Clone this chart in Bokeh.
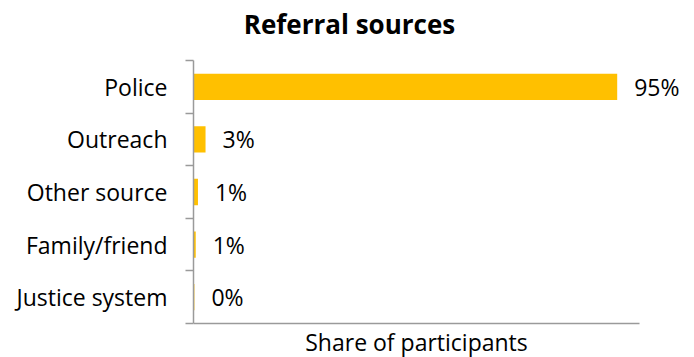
from bokeh.plotting import figure
from bokeh.models import Range1d, FixedTicker, ColumnDataSource, LabelSet, Label
from bokeh.embed import file_html
from bokeh.resources import INLINE
from bokeh.core.properties import value

categories = ["Police", "Outreach", "Other source", "Family/friend", "Justice system"]
shares = [95.0, 2.7, 1.0, 0.5, 0.2]
share_labels = ["95%", "3%", "1%", "1%", "0%"]
x_max = 100
chart_title = "Referral sources"
x_title = "Share of participants"

n = len(categories)
positions = [n - i - 0.5 for i in range(n)]
boundaries = list(range(n + 1))

FONT = "Open Sans"
GOLD = "#FFC000"
AXIS = "#9a9a9a"

# layout (pixels)
W, H = 694, 357
LEFT = 193          # plot area left (y axis line)
AXIS_RIGHT = 639    # end of x axis line
TOP, BOTTOM = 60, 323
px_x = (AXIS_RIGHT - LEFT) / x_max
band = (BOTTOM - TOP) / n


def px_to_x(px):
    return (px - LEFT) / px_x


def px_to_y(py):
    return (BOTTOM - py) / band


src = ColumnDataSource(dict(y=positions, x=shares, lab=share_labels))

p = figure(width=W, height=H, title=None, output_backend="svg", toolbar_location=None,
           x_axis_location=None,
           x_range=Range1d(0, (W - LEFT) / px_x),
           y_range=Range1d(px_to_y(H), px_to_y(0)),
           min_border_left=LEFT, min_border_right=0, min_border_top=0, min_border_bottom=0)
p.outline_line_color = None
p.grid.visible = False
p.background_fill_color = "white"
p.border_fill_color = "white"

# x axis line
p.segment(x0=[0], y0=[0], x1=[x_max], y1=[0], line_color=AXIS, line_width=1.5)

p.hbar(y="y", right="x", left=0, height=0.5, source=src, color=GOLD, line_color=None)
p.add_layout(LabelSet(x="x", y="y", text="lab", source=src, x_offset=17, text_align="left",
                      text_baseline="middle", text_font=value(FONT), text_font_size="23px",
                      text_color="black"))

ya = p.yaxis[0]
ya.bounds = (0, n)
ya.ticker = FixedTicker(ticks=positions, minor_ticks=boundaries)
ya.major_label_overrides = {pos: c for pos, c in zip(positions, categories)}
ya.major_tick_out = 0
ya.major_tick_in = 0
ya.minor_tick_out = 8
ya.minor_tick_in = 0
ya.minor_tick_line_color = AXIS
ya.axis_line_color = AXIS
ya.axis_line_width = 1.5
ya.minor_tick_line_width = 1.5
ya.major_label_standoff = 18
ya.major_label_text_font = FONT
ya.major_label_text_font_size = "23px"
ya.major_label_text_color = "black"

p.add_layout(Label(x=px_to_x(349), y=px_to_y(23), text=chart_title, text_align="center",
                   text_baseline="middle", text_font=FONT, text_font_size="26px",
                   text_font_style="bold", text_color="black"))
p.add_layout(Label(x=x_max / 2, y=px_to_y(341), text=x_title, text_align="center",
                   text_baseline="middle", text_font=FONT, text_font_size="23px",
                   text_color="black"))

open("out.html", "w").write(file_html(p, INLINE))
